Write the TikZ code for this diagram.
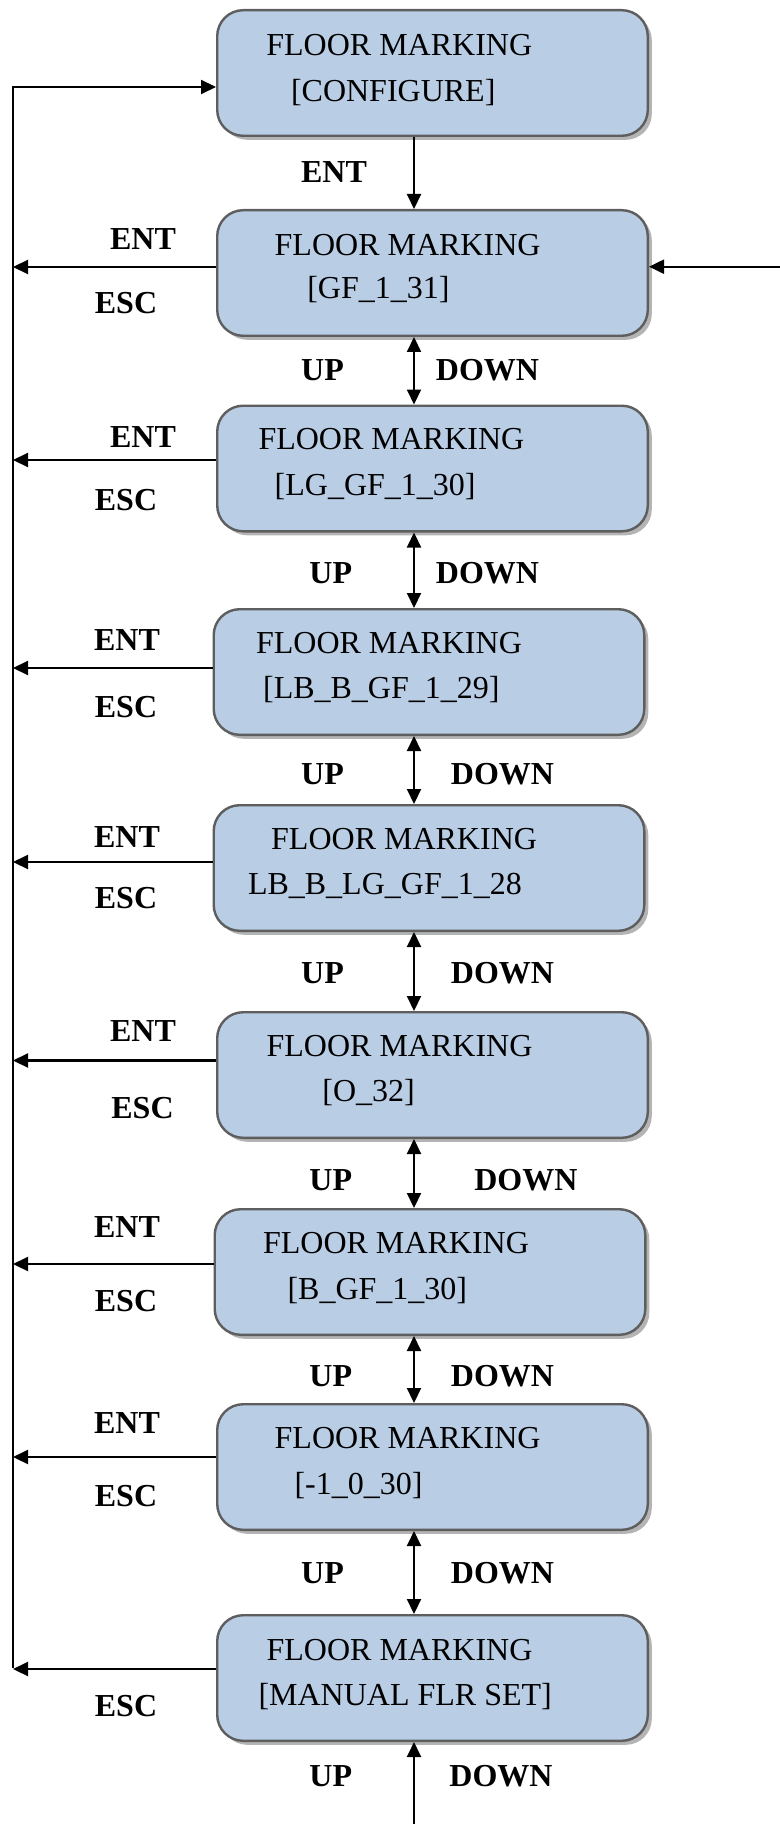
\documentclass[tikz,border=0pt]{standalone}
\usepackage{fontspec}
\setmainfont{Liberation Serif}
\usetikzlibrary{arrows.meta,shadows}
\definecolor{boxfill}{HTML}{B9CDE5}
\definecolor{boxline}{HTML}{5E5E5E}
\definecolor{shade}{HTML}{B4B4B4}
\begin{document}
\begin{tikzpicture}[x=0.5pt,y=-0.5pt,
  state/.style={draw=boxline, line width=1.2pt, fill=boxfill, rounded corners=13pt,
    minimum width=215.3pt, minimum height=62.8pt, inner sep=0pt,
    drop shadow={shadow xshift=2pt, shadow yshift=-2pt, fill=shade, opacity=1}},
  txt/.style={anchor=base west, inner sep=0pt, font=\fontsize{16}{19}\selectfont},
  key/.style={inner sep=0pt, font=\fontsize{16}{19}\selectfont\bfseries},
  wire/.style={line width=1.05pt},
  link/.style={wire, -{Triangle[length=7.5pt,width=7pt]}},
  both/.style={wire, {Triangle[length=7.5pt,width=7pt]}-{Triangle[length=7.5pt,width=7pt]}}]
\useasboundingbox (0,0) rectangle (780,1824);

% menu states
\node[state] (b1) at (432.5,73) {};
\node[state] (b2) at (432.5,273) {};
\node[state] (b3) at (432.5,468.5) {};
\node[state] (b4) at (429,672) {};
\node[state] (b5) at (429,868) {};
\node[state] (b6) at (432.5,1075) {};
\node[state] (b7) at (430,1272) {};
\node[state] (b8) at (432.5,1467) {};
\node[state] (b9) at (432.5,1678) {};

% state captions
\node[txt] (t1a) at (266,55.7) {FLOOR MARKING};
\node[txt] (t1b) at (290.6,101.5) {[CONFIGURE]};
\node[txt] (t2a) at (274.3,255.6) {FLOOR MARKING};
\node[txt] (t2b) at (306.9,298.6) {[GF\_1\_31]};
\node[txt] (t3a) at (258.1,449.7) {FLOOR MARKING};
\node[txt] (t3b) at (274.3,495.1) {[LG\_GF\_1\_30]};
\node[txt] (t4a) at (255.7,653.1) {FLOOR MARKING};
\node[txt] (t4b) at (262.7,698.5) {[LB\_B\_GF\_1\_29]};
\node[txt] (t5a) at (270.8,849.6) {FLOOR MARKING};
\node[txt] (t5b) at (247.6,894.9) {LB\_B\_LG\_GF\_1\_28};
\node[txt] (t6a) at (266.2,1056.5) {FLOOR MARKING};
\node[txt] (t6b) at (322,1101.8) {[O\_32]};
\node[txt] (t7a) at (262.7,1253.4) {FLOOR MARKING};
\node[txt] (t7b) at (287.1,1299) {[B\_GF\_1\_30]};
\node[txt] (t8a) at (274.3,1448.3) {FLOOR MARKING};
\node[txt] (t8b) at (294.1,1494.7) {[-1\_0\_30]};
\node[txt] (t9a) at (266.2,1660.2) {FLOOR MARKING};
\node[txt] (t9b) at (258.1,1705.1) {[MANUAL FLR SET]};

% reference points for the rails
\coordinate (rail) at (13,0);
\coordinate (ax) at (414,0);
\coordinate (bot) at (414,1824);
\coordinate (rin) at (780,266.7);

% return rail on the left, back to the configure state
\draw[link] ([yshift=5pt]b9.west -| rail) -- ([yshift=-7pt]b1.west -| rail) -- ([yshift=-7pt]b1.west);

% exits of each state to the rail
\draw[link] ([yshift=3pt]b2.west) -- ([yshift=3pt]b2.west -| rail);
\draw[link] ([yshift=4.25pt]b3.west) -- ([yshift=4.25pt]b3.west -| rail);
\draw[link] ([yshift=2pt]b4.west) -- ([yshift=2pt]b4.west -| rail);
\draw[link] ([yshift=3pt]b5.west) -- ([yshift=3pt]b5.west -| rail);
\draw[link] ([yshift=7.25pt]b6.west) -- ([yshift=7.25pt]b6.west -| rail);
\draw[link] ([yshift=4pt]b7.west) -- ([yshift=4pt]b7.west -| rail);
\draw[link] ([yshift=5pt]b8.west) -- ([yshift=5pt]b8.west -| rail);
\draw[link] ([yshift=4.5pt]b9.west) -- ([yshift=4.5pt]b9.west -| rail);

% vertical transitions
\draw[link] (b1.south -| ax) -- (b2.north -| ax);
\draw[both] (b2.south -| ax) -- (b3.north -| ax);
\draw[both] (b3.south -| ax) -- (b4.north -| ax);
\draw[both] (b4.south -| ax) -- (b5.north -| ax);
\draw[both] (b5.south -| ax) -- (b6.north -| ax);
\draw[both] (b6.south -| ax) -- (b7.north -| ax);
\draw[both] (b7.south -| ax) -- (b8.north -| ax);
\draw[both] (b8.south -| ax) -- (b9.north -| ax);
\draw[link] (bot) -- (b9.south -| bot);
\draw[link] (rin) -- (rin -| b2.east);

% key labels
\node[key] (kent0) at (334,171.7) {ENT};
\node[key] (kent2) at (143,239.5) {ENT};
\node[key] (kesc2) at (126,303.4) {ESC};
\node[key] (kent3) at (143,437) {ENT};
\node[key] (kesc3) at (126,500) {ESC};
\node[key] (kent4) at (127,640.5) {ENT};
\node[key] (kesc4) at (126,706.7) {ESC};
\node[key] (kent5) at (127,837) {ENT};
\node[key] (kesc5) at (126,898.5) {ESC};
\node[key] (kent6) at (143,1031.5) {ENT};
\node[key] (kesc6) at (142.5,1108) {ESC};
\node[key] (kent7) at (127,1227.5) {ENT};
\node[key] (kesc7) at (126,1300.7) {ESC};
\node[key] (kent8) at (127,1422.8) {ENT};
\node[key] (kesc8) at (126,1496) {ESC};
\node[key] (kesc9) at (126,1706.4) {ESC};

\node[key] (kup2) at (322.5,370) {UP};
\node[key] (kdn2) at (487.5,370) {DOWN};
\node[key] (kup3) at (330.8,573.3) {UP};
\node[key] (kdn3) at (487.5,573.3) {DOWN};
\node[key] (kup4) at (322.5,774) {UP};
\node[key] (kdn4) at (502.5,774) {DOWN};
\node[key] (kup5) at (322.5,973.3) {UP};
\node[key] (kdn5) at (502.5,973.3) {DOWN};
\node[key] (kup6) at (330.8,1180) {UP};
\node[key] (kdn6) at (525.8,1180) {DOWN};
\node[key] (kup7) at (330.8,1375.7) {UP};
\node[key] (kdn7) at (502.5,1375.7) {DOWN};
\node[key] (kup8) at (322.5,1573.3) {UP};
\node[key] (kdn8) at (502.5,1573.3) {DOWN};
\node[key] (kup9) at (330.8,1776.5) {UP};
\node[key] (kdn9) at (501,1776.5) {DOWN};
\end{tikzpicture}
\end{document}
